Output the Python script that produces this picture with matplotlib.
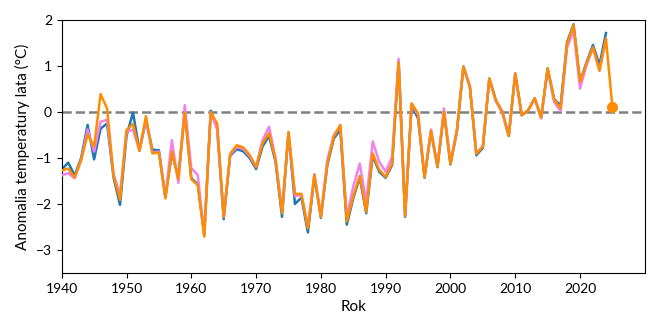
import numpy as np
import matplotlib
matplotlib.use('Agg')
import matplotlib.pyplot as plt

plt.rcParams['font.family'] = ['Lato', 'DejaVu Sans']
plt.rcParams['font.size'] = 10

# Years and anomaly series
years = np.arange(1940, 2025)
years_orange = np.arange(1940, 2026)

blue = [-1.25, -1.10, -1.38, -1.00, -0.28, -1.03, -0.36, -0.25, -1.42, -2.02,
        -0.52, -0.01, -0.84, -0.17, -0.82, -0.83, -1.85, -0.90, -1.40, 0.03,
        -1.44, -1.57, -2.66, 0.03, -0.35, -2.33, -0.95, -0.81, -0.85, -1.00,
        -1.24, -0.75, -0.52, -1.08, -2.28, -0.45, -2.00, -1.86, -2.62, -1.40,
        -2.30, -1.15, -0.58, -0.38, -2.45, -1.88, -1.42, -2.20, -0.95, -1.30,
        -1.43, -1.15, 1.10, -2.28, 0.15, -0.14, -1.43, -0.42, -1.20, 0.00,
        -1.14, -0.42, 0.99, 0.55, -0.94, -0.78, 0.73, 0.26, 0.00, -0.52,
        0.84, -0.07, 0.04, 0.30, -0.12, 0.95, 0.28, 0.14, 1.52, 1.91,
        0.66, 1.08, 1.46, 1.02, 1.72]

violet = [-1.38, -1.33, -1.44, -1.05, -0.38, -0.86, -0.21, -0.17, -1.35, -1.80,
          -0.43, -0.38, -0.84, -0.17, -0.88, -0.86, -1.85, -0.61, -1.54, 0.15,
          -1.22, -1.37, -2.68, 0.00, -0.39, -2.28, -0.93, -0.76, -0.80, -0.96,
          -1.20, -0.61, -0.32, -1.00, -2.15, -0.45, -1.83, -1.80, -2.50, -1.35,
          -2.25, -1.04, -0.50, -0.30, -2.28, -1.62, -1.12, -1.95, -0.64, -1.08,
          -1.30, -0.97, 1.16, -2.24, 0.17, -0.06, -1.40, -0.38, -1.16, 0.08,
          -1.10, -0.38, 0.99, 0.55, -0.90, -0.74, 0.72, 0.24, -0.02, -0.50,
          0.82, -0.07, 0.03, 0.30, -0.14, 0.92, 0.22, 0.02, 1.40, 1.78,
          0.51, 1.02, 1.40, 0.90, 1.58]

orange = [-1.27, -1.23, -1.42, -1.04, -0.49, -0.75, 0.39, 0.08, -1.38, -1.91,
          -0.39, -0.26, -0.84, -0.09, -0.90, -0.88, -1.88, -0.86, -1.46, -0.01,
          -1.46, -1.59, -2.71, -0.01, -0.25, -2.28, -0.91, -0.72, -0.77, -0.93,
          -1.19, -0.68, -0.46, -1.04, -2.20, -0.43, -1.78, -1.78, -2.53, -1.37,
          -2.28, -1.12, -0.54, -0.28, -2.38, -1.84, -1.39, -2.17, -0.90, -1.26,
          -1.41, -1.12, 1.08, -2.26, 0.19, -0.03, -1.42, -0.41, -1.19, 0.01,
          -1.13, -0.40, 0.99, 0.55, -0.91, -0.75, 0.73, 0.26, 0.01, -0.52,
          0.84, -0.07, 0.04, 0.30, -0.12, 0.95, 0.28, 0.08, 1.49, 1.89,
          0.66, 1.06, 1.41, 0.90, 1.60, 0.10]

fig = plt.figure(figsize=(6.6, 3.3), dpi=100)
ax = fig.add_axes([0.0935, 0.173, 0.8835, 0.766])

ax.axhline(0, color='gray', linestyle='--', linewidth=1.8, zorder=1)
ax.plot(years, blue, color='#1f77b4', linewidth=1.8, zorder=2)
ax.plot(years, violet, color='violet', linewidth=1.8, zorder=3)
ax.plot(years_orange, orange, color='darkorange', linewidth=1.8, zorder=4)
ax.plot(years_orange[-1], orange[-1], 'o', color='darkorange', markersize=7, zorder=5)

ax.set_xlim(1940, 2030)
ax.set_ylim(-3.5, 2)
ax.set_xticks(np.arange(1940, 2030, 10))
ax.set_yticks(np.arange(-3, 3, 1))
ax.set_xlabel('Rok', fontsize=11)
ax.set_ylabel('Anomalia temperatury lata (°C)', fontsize=11)

fig.savefig('out.png', dpi=100)
